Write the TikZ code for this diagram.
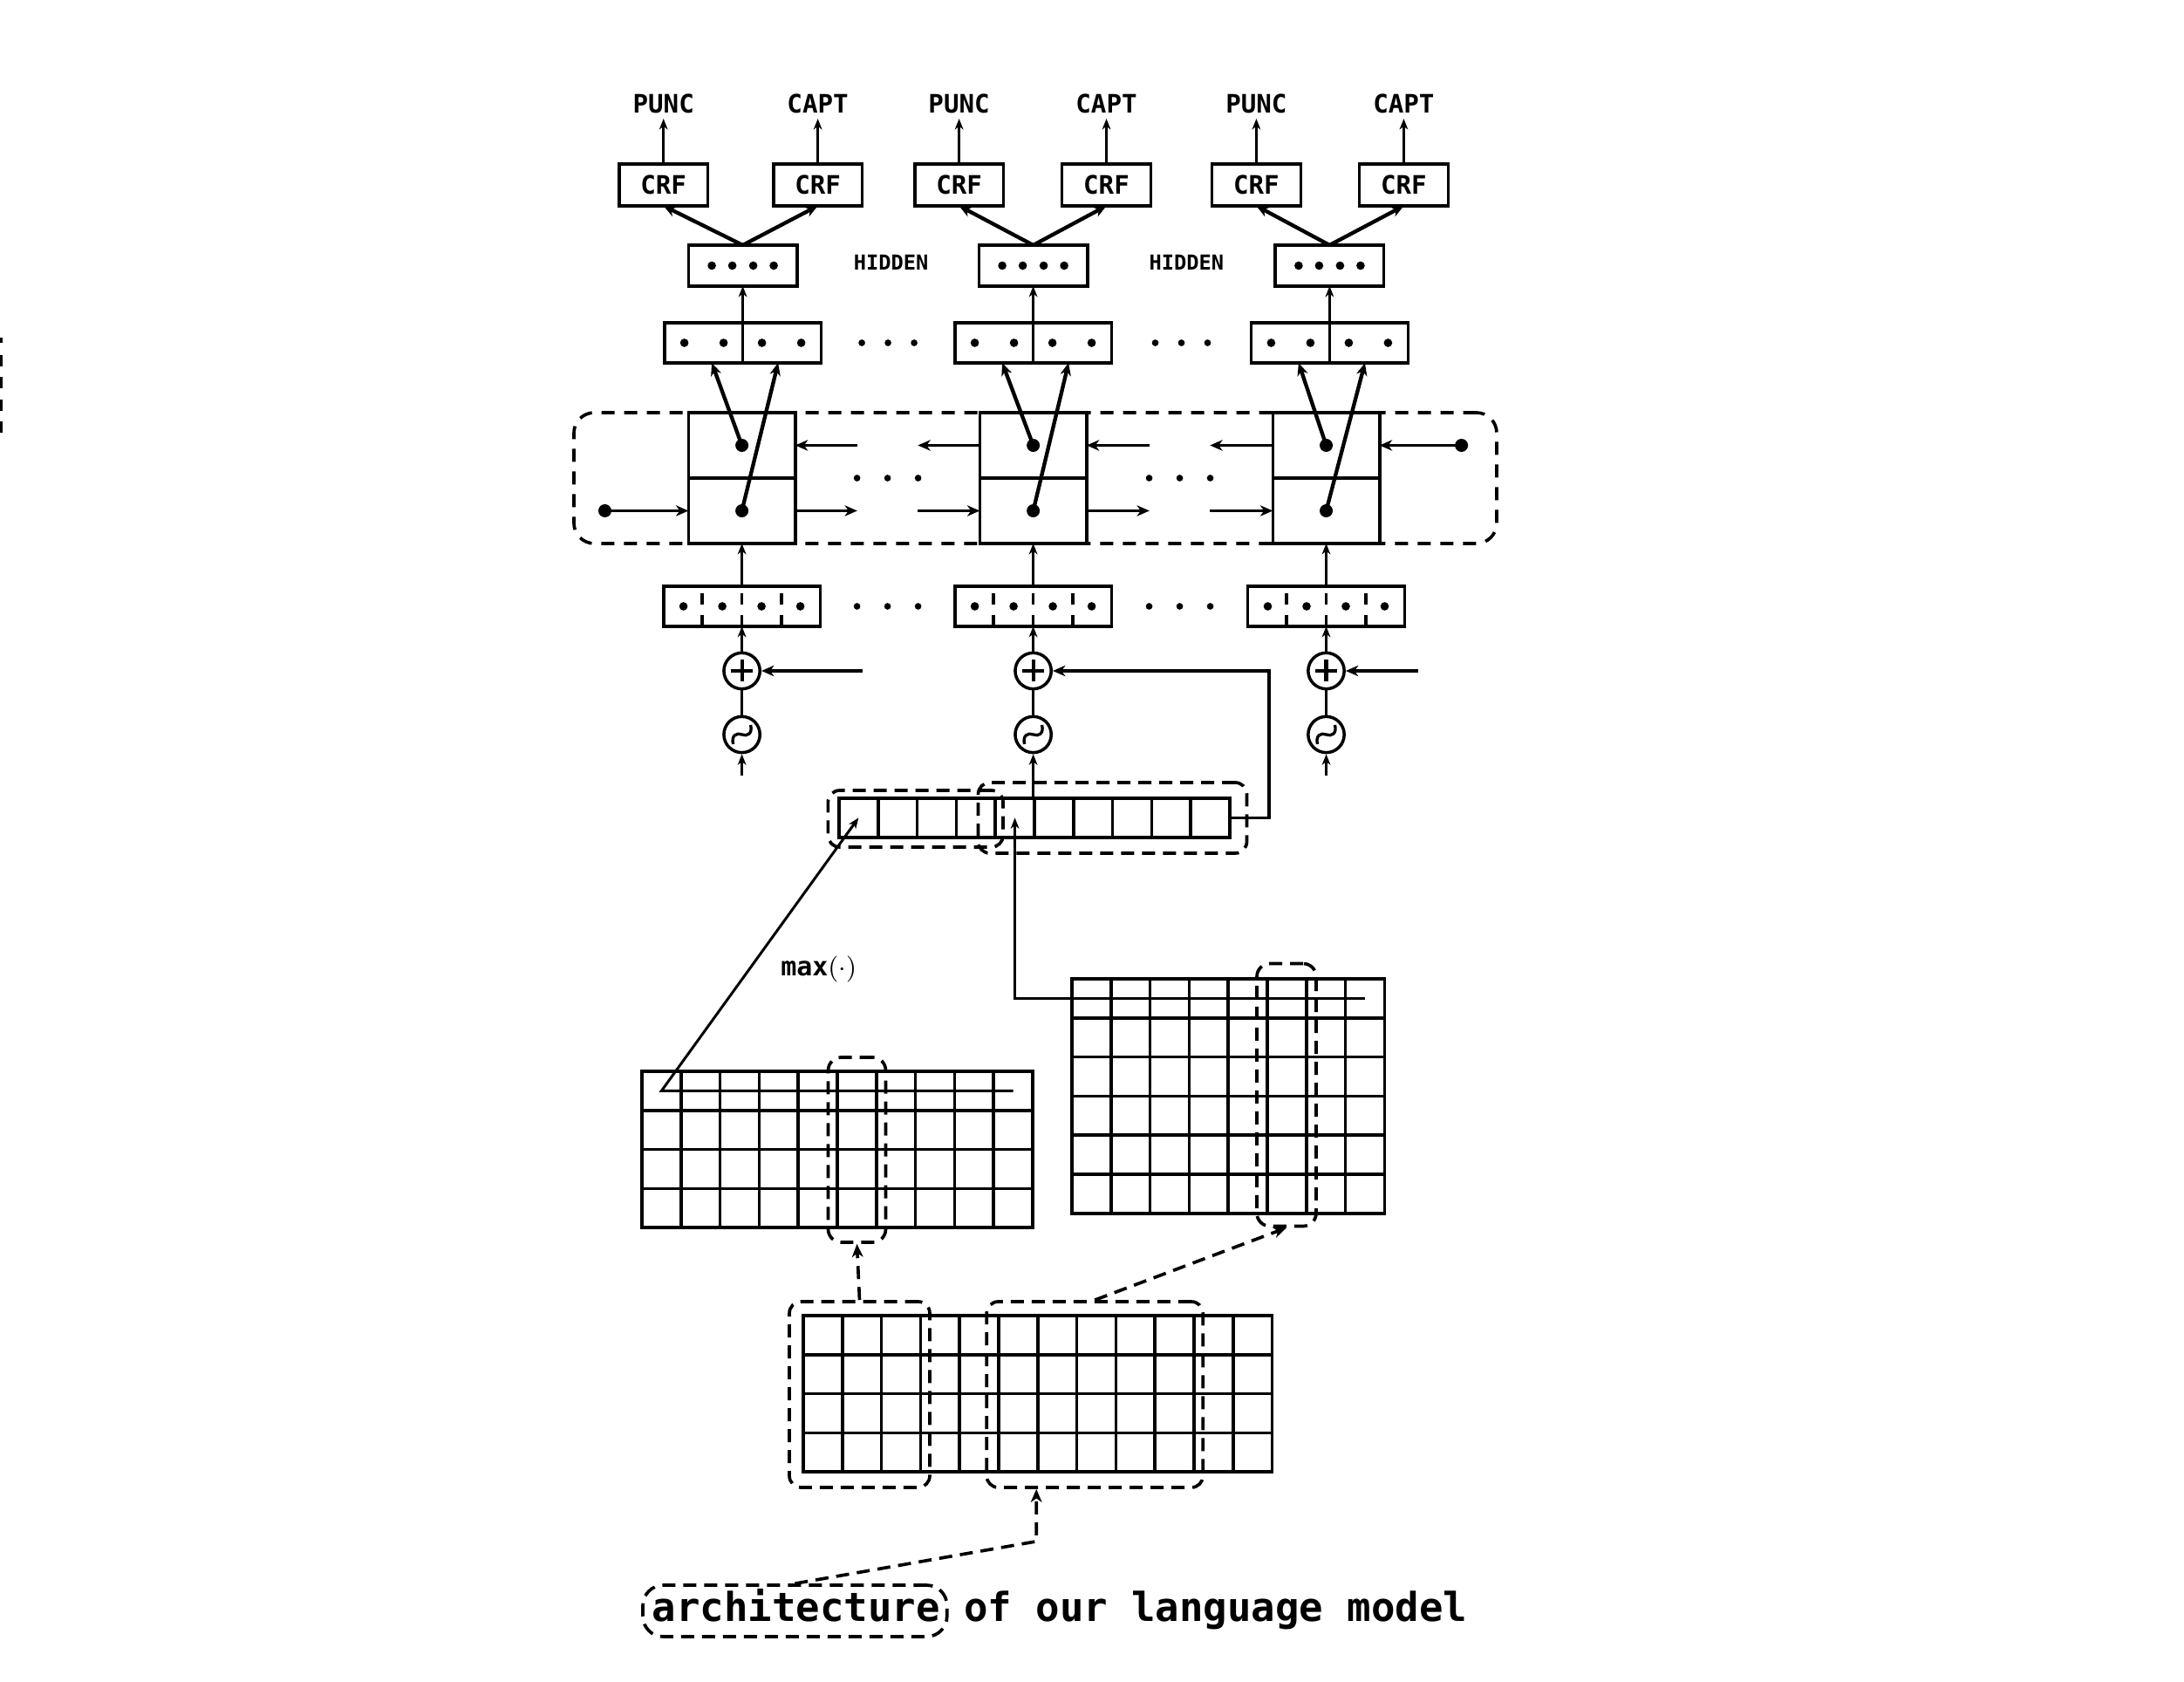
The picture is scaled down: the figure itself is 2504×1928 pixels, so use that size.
\documentclass[tikz,border=0pt]{standalone}
\usepackage{fontspec}
\setmonofont{DejaVu Sans Mono}
\usepackage{tikz}
\usetikzlibrary{arrows.meta,calc}

\tikzset{
  lbl/.style={inner sep=1.5pt,font=\ttfamily\bfseries\fontsize{8.75}{10}\selectfont},
  unitbox/.style={draw,line width=1.05pt,inner sep=0pt,outer sep=0pt},
  blob/.style={circle,fill,inner sep=0pt,minimum size=#1},
  blob/.default=4.5pt,
  opcirc/.style={circle,draw,line width=1.05pt,inner sep=0pt,minimum size=12.4pt},
  arr/.style={-{Stealth[length=4.3pt,width=3.7pt,inset=1.3pt]},line width=1.1pt},
  thinarr/.style={-{Stealth[length=3.7pt,width=2.9pt,inset=1.1pt]},line width=0.9pt},
  dashbox/.style={draw,line width=1.1pt,dash pattern=on 4.5pt off 2.7pt,rounded corners=4pt,inner sep=0pt},
  dasharr/.style={-{Stealth[length=4.5pt,width=3.8pt,inset=1.3pt]},line width=1.1pt,dash pattern=on 4.5pt off 2.7pt},
  gridl/.style={line width=1.05pt},
}

\begin{document}
\begin{tikzpicture}[x=0.3pt,y=0.3pt,yscale=-1,xscale=1]
\useasboundingbox (0,0) rectangle (2504,1928);
%Straight Lines (cut by the left margin)
\draw [line width=1.8pt] (0,387) -- (0,393);
\draw [line width=1.8pt,dash pattern=on 3.9pt off 3.75pt] (0,407) -- (0,497);

%Rounded Rect (bidirectional layer)
\node (bilstm) [dashbox,rounded corners=7pt,dash pattern=on 4.5pt off 3.3pt,minimum width=317.4pt,minimum height=45pt] at (1187,548) {};
\node (lstart) [blob] at (693.5,585.5) {};
\node (lend) [blob] at (1675.6,510.5) {};

% one column per word: index / lower x / upper x / punc x / capt x
\foreach \i/\xlow/\xup/\xp/\xc in {1/850.6/851.6/760.7/937.6,2/1184.6/1184.6/1099.6/1268.5,3/1520.5/1524.4/1440.4/1609.4}{
  % Text Node
  \node (punc\i) [lbl,anchor=base] at (\xp,130) {PUNC};
  \node (capt\i) [lbl,anchor=base] at (\xc,130) {CAPT};
  \node (crfp\i) [unitbox,lbl,inner sep=0pt,minimum width=30.5pt,minimum height=14.4pt] at (\xp,212) {CRF};
  \node (crfc\i) [unitbox,lbl,inner sep=0pt,minimum width=30.5pt,minimum height=14.4pt] at (\xc,212) {CRF};
  \node (hid\i) [unitbox,minimum width=37.35pt,minimum height=14.1pt] at (\xup,304.5) {};
  \node (out\i) [unitbox,minimum width=53.9pt,minimum height=13.8pt] at (\xup,393) {};
  \node (ctop\i) [unitbox,minimum width=36.75pt,minimum height=22.5pt] at (\xlow,510.5) {};
  \node (cbot\i) [unitbox,minimum width=36.75pt,minimum height=22.5pt] at (\xlow,585.5) {};
  \node (dt\i) [blob] at (ctop\i.center) {};
  \node (db\i) [blob] at (cbot\i.center) {};
  \node (emb\i) [unitbox,minimum width=53.9pt,minimum height=13.8pt] at (\xlow,695) {};
  \node (plus\i) [opcirc] at (\xlow,769) {};
  \node (osc\i) [opcirc] at (\xlow,842) {};
  % box contents
  \foreach \dx in {-35.5,-12,12,35.5} \fill ($(hid\i)+(\dx,0)$) circle (1.45pt);
  \foreach \dx in {-67,-22,22,67} \fill ($(out\i)+(\dx,0)$) circle (1.45pt);
  \foreach \dx in {-67,-22.5,22.5,67} \fill ($(emb\i)+(\dx,0)$) circle (1.45pt);
  \draw [line width=1.05pt] (out\i.north) -- (out\i.south);
  \foreach \dx in {-45.5,0,45.5} \draw [line width=1pt] ($(emb\i.north)+(\dx,8)$) -- +(0,13) ($(emb\i.south)+(\dx,0)$) -- +(0,-13);
  \draw [line width=1.25pt] ($(plus\i)+(-12.5,0)$) -- ($(plus\i)+(12.5,0)$) ($(plus\i)+(0,-12.5)$) -- ($(plus\i)+(0,12.5)$);
  \draw [line width=1pt] ($(osc\i)+(-10,11)$) .. controls ($(osc\i)+(-12.5,1)$) and ($(osc\i)+(-6,-2.5)$) .. (osc\i.center) .. controls ($(osc\i)+(6,2.5)$) and ($(osc\i)+(12.5,-1)$) .. ($(osc\i)+(10,-11)$);
  % connectors
  \draw [thinarr,line width=1pt] (crfp\i) -- (punc\i);
  \draw [thinarr,line width=1pt] (crfc\i) -- (capt\i);
  \draw [arr,line width=1.3pt] (hid\i.north) -- (crfp\i.south);
  \draw [arr,line width=1.3pt] (hid\i.north) -- (crfc\i.south);
  \draw [thinarr] (out\i) -- (hid\i);
  \draw [arr,line width=1.3pt] (dt\i.center) -- ($(out\i.south)+(-35.5,0)$);
  \draw [arr,line width=1.3pt] (db\i.center) -- ($(out\i.south)+(40.5,0)$);
  \draw [thinarr] (emb\i) -- (cbot\i);
  \draw [thinarr] (plus\i) -- (emb\i);
  \draw [line width=1pt] (osc\i) -- (plus\i);
}

% Text Node
\node (hidlbl1) [lbl,font=\ttfamily\bfseries\fontsize{7.1}{8}\selectfont,anchor=base] at (1021.5,310) {HIDDEN};
\node (hidlbl2) [lbl,font=\ttfamily\bfseries\fontsize{7.1}{8}\selectfont,anchor=base] at (1360.4,310) {HIDDEN};

% dots between the columns
\foreach \a/\b in {1/2,2/3}{
  \foreach \dx in {-30,0,30} \fill ($(out\a.east)!0.5!(out\b.west)+(\dx,0)$) circle (1.15pt);
  \foreach \dx in {-35,0,35} \fill ($(ctop\a.south east)!0.5!(ctop\b.south west)+(\dx,0)$) circle (1.15pt);
  \foreach \dx in {-35,0,35} \fill ($(emb\a.east)!0.5!(emb\b.west)+(\dx,0)$) circle (1.15pt);
}

% recurrent arrows
\draw [arr] (lstart.center) -- (cbot1.west);
\draw [arr] (cbot1.east) -- +(71,0);
\draw [arr] ($(cbot2.west)+(-71,0)$) -- (cbot2.west);
\draw [arr] (cbot2.east) -- +(72,0);
\draw [arr] ($(cbot3.west)+(-72,0)$) -- (cbot3.west);
\draw [arr] ($(ctop1.east)+(71,0)$) -- (ctop1.east);
\draw [arr] (ctop2.west) -- +(-71,0);
\draw [arr] ($(ctop2.east)+(72,0)$) -- (ctop2.east);
\draw [arr] (ctop3.west) -- +(-72,0);
\draw [arr] (lend.center) -- (ctop3.east);

% inputs of the adders
\draw [arr] ($(plus1.east)+(115.6,0)$) -- (plus1.east);
\draw [arr] ($(plus3.east)+(83,0)$) -- (plus3.east);
\draw [thinarr] ($(osc1.south)+(0,25)$) -- (osc1.south);
\draw [thinarr] ($(osc3.south)+(0,25)$) -- (osc3.south);

% character vector
\node (vec) [unitbox,anchor=north west,minimum width=134.4pt,minimum height=13.44pt] at (962,915) {};
\foreach \k in {1,...,9} \draw [gridl] ($(vec.north west)+(44.8*\k,0)$) -- ++(0,44.8);

% feature maps
\node (mapA) [unitbox,anchor=north west,minimum width=134.4pt,minimum height=53.76pt] at (736,1228) {};
\foreach \k in {1,...,9} \draw [gridl] ($(mapA.north west)+(44.8*\k,0)$) -- ++(0,179.2);
\foreach \k in {1,2,3} \draw [gridl] ($(mapA.north west)+(0,44.8*\k)$) -- ++(448,0);
\node (mapB) [unitbox,anchor=north west,minimum width=107.52pt,minimum height=80.64pt] at (1229,1122) {};
\foreach \k in {1,...,7} \draw [gridl] ($(mapB.north west)+(44.8*\k,0)$) -- ++(0,268.8);
\foreach \k in {1,...,5} \draw [gridl] ($(mapB.north west)+(0,44.8*\k)$) -- ++(358.4,0);
\node (seq) [unitbox,anchor=north west,minimum width=161.28pt,minimum height=53.76pt] at (921,1508) {};
\foreach \k in {1,...,11} \draw [gridl] ($(seq.north west)+(44.8*\k,0)$) -- ++(0,179.2);
\foreach \k in {1,2,3} \draw [gridl] ($(seq.north west)+(0,44.8*\k)$) -- ++(537.6,0);

% selection boxes
\node (vecA) [dashbox,minimum width=60.2pt,minimum height=19.5pt] at (1049.7,938.5) {};
\node (vecB) [dashbox,minimum width=92.4pt,minimum height=24.3pt] at (1275.5,937.5) {};
\node (colA) [dashbox,rounded corners=4.5pt,minimum width=19.8pt,minimum height=63.6pt] at (982.5,1318) {};
\node (colB) [dashbox,rounded corners=4.5pt,minimum width=20.4pt,minimum height=90.3pt] at (1475,1255) {};
\node (selA) [dashbox,minimum width=48.3pt,minimum height=63.9pt] at (985.5,1598.5) {};
\node (selB) [dashbox,minimum width=74.4pt,minimum height=63.9pt] at (1255.2,1598.5) {};
\node (word) [dashbox,rounded corners=7pt,minimum width=104.6pt,minimum height=17.7pt] at (911.4,1846.5) {};

% Text Node
\node (caption) [anchor=base west,inner sep=0pt,font=\ttfamily\bfseries\fontsize{13.7}{16}\selectfont] at (747,1858) {architecture of our language model};
\node (maxlbl) [anchor=base west,inner sep=0pt,font=\ttfamily\fontsize{9}{10}\selectfont] at (894.6,1118) {\textbf{max}$(\cdot)$};

% connectors of the lower part
\draw [thinarr] ($(mapA.north east)+(-22.4,22.4)$) -- ($(mapA.north west)+(22.4,22.4)$) -- ($(vec.west)+(22.4,0)$);
\draw [thinarr] ($(mapB.north east)+(-22.4,22.4)$) -| ($(vec.west)+(201.6,0)$);
\draw [arr] (vec.east) -- ++(45,0) |- (plus2.east);
\draw [thinarr] (vec.north -| osc2) -- (osc2.south);
\draw [dasharr] (selA.north) -- (colA.south);
\draw [dasharr] (selB.north) -- (colB.south);
\draw [dasharr] (word.north) -- ($(selB.south)+(-67,60)$) -- ($(selB.south)+(-67,0)$);
\end{tikzpicture}
\end{document}
